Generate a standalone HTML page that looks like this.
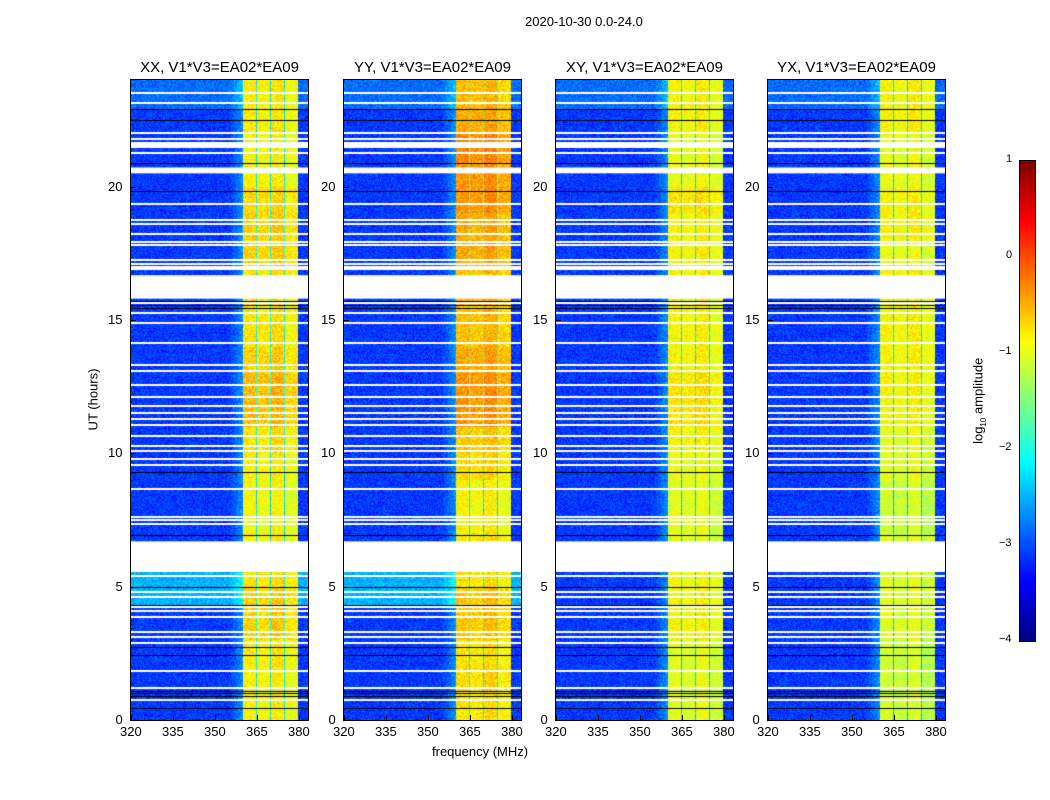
<!DOCTYPE html>
<html><head><meta charset="utf-8">
<style>
body{margin:0;background:#fff;width:1050px;height:800px;position:relative;overflow:hidden;font-family:"Liberation Sans",sans-serif;}
.t{position:absolute;font-size:13px;color:#000;white-space:nowrap}
.title{position:absolute;font-size:15px;white-space:nowrap;transform:translateX(-50%)}
canvas{position:absolute}
.frame{position:absolute;border:1px solid #000;box-sizing:border-box}
</style></head><body>
<div class="t" style="left:525px;top:14px">2020-10-30 0.0-24.0</div>
<div class="t" style="left:432px;top:744px">frequency (MHz)</div>
<div class="t" style="left:62px;top:392px;transform:rotate(-90deg);transform-origin:50% 50%">UT (hours)</div>
<div id="root"></div>
<canvas id="cbar" width="15" height="480" style="left:1019px;top:160px;border:1px solid #000;box-sizing:content-box"></canvas>
<div class="t" style="left:936px;top:392px;transform:rotate(-90deg)">log<sub style="font-size:8px">10</sub> amplitude</div>
<script>
// ---- data ----
const panelTitles=["XX, V1*V3=EA02*EA09","YY, V1*V3=EA02*EA09","XY, V1*V3=EA02*EA09","YX, V1*V3=EA02*EA09"];
const panelLefts=[131,344,556,768];
const xTicks=[320,335,350,365,380];
const yTicks=[0,5,10,15,20];
const cbTicks=[1,0,-1,-2,-3,-4];
const gaps=[[5.55,6.7],[15.8,16.68],[20.5,20.72]];
const whiteLines=[23.5,23.15,22.0,21.8,21.65,21.57,21.5,21.27,19.36,18.76,18.6,18.24,17.94,17.83,17.26,17.1,16.97,16.9,15.65,15.25,14.9,14.13,13.33,13.07,12.55,12.1,11.77,11.5,11.3,11.08,10.64,10.26,10.1,9.77,9.55,8.65,7.6,7.49,7.34,5.4,4.8,4.6,4.23,4.08,3.86,3.3,3.1,2.9,1.84,1.2,0.75];
const blackLines=[22.9,22.5,20.9,19.85,15.72,15.55,15.45,9.3,6.93,4.98,4.3,2.74,2.43,1.09,1.0,0.9,0.45];
// band level (log10 amp) per hour 0..23 per panel
const bandXX=[-0.85,-0.85,-0.8,-0.65,-0.65,-0.75,-0.85,-0.9,-0.9,-0.85,-0.75,-0.55,-0.55,-0.65,-0.75,-0.75,-0.75,-0.65,-0.65,-0.7,-0.85,-0.85,-0.8,-0.8];
const bandYY=[-0.75,-0.7,-0.75,-0.6,-0.6,-0.75,-0.75,-0.85,-0.85,-0.7,-0.6,-0.35,-0.35,-0.45,-0.55,-0.55,-0.55,-0.45,-0.45,-0.35,-0.35,-0.3,-0.45,-0.55];
const bandXY=[-1.0,-1.0,-1.0,-0.85,-0.85,-0.9,-1.0,-1.0,-1.0,-0.95,-0.85,-0.75,-0.75,-0.85,-0.85,-0.85,-0.85,-0.85,-0.85,-0.75,-0.95,-0.95,-0.85,-0.85];
const bandYX=[-1.1,-1.1,-1.1,-1.0,-1.0,-1.0,-1.0,-1.1,-1.1,-1.0,-1.0,-0.85,-0.85,-0.85,-0.85,-0.85,-0.85,-0.95,-0.85,-0.85,-0.95,-0.95,-0.85,-0.85];
const bands=[bandXX,bandYY,bandXY,bandYX];
const subbandStarts=[360,365,370,375];
const subbandOffset=[0,-0.05,0.05,-0.12];
const backgroundLevel=-3.1;
// ---- axes ----
const FMIN=320,FMAX=383.2,PW=177,PH=640,TOP=80;
const xs=f=>(f-FMIN)/(FMAX-FMIN)*PW;
const ys=h=>PH-h/24*PH;
function jet(v){let t=(v+4)/5;t=Math.max(0,Math.min(1,t));const c=x=>Math.round(255*Math.max(0,Math.min(1,x)));return [c(1.5-Math.abs(4*t-3)),c(1.5-Math.abs(4*t-2)),c(1.5-Math.abs(4*t-1))];}
function hash(a,b,c){let h=(a*374761393+b*668265263+c*2147483647)|0;h=(h^(h>>>13))*1274126177|0;return ((h^(h>>>16))>>>0)/4294967296;}
const root=document.getElementById('root');
panelLefts.forEach((L,p)=>{
  const cv=document.createElement('canvas');
  
  
  cv.width=PW;cv.height=PH;cv.style.left=L+'px';cv.style.top=TOP+'px';
  root.appendChild(cv);
  const ctx=cv.getContext('2d');const img=ctx.createImageData(PW,PH);
  for(let y=0;y<PH;y++){
    const h=(PH-y-0.5)/PH*24;
    const bl=bands[p][Math.min(23,Math.floor(h))];
    let base=backgroundLevel;
    if(h>4.3&&h<5.55&&p<2) base=-2.5;
    if(h>22.9) base=-2.85;
    for(let x=0;x<PW;x++){
      const f=FMIN+(x+0.5)/PW*(FMAX-FMIN);
      let v=base;
      if(f>355&&f<360) v=base+(f-355)/5*0.45;
      let k=-1;subbandStarts.forEach((s,i)=>{if(f>=s&&f<s+4.5)k=i;});
      if(f>=360&&f<379.5){v=(k>=0)?bl+subbandOffset[k]:bl-1.4;}
      v+= (hash(x,y,p)-0.5)*0.5;
      const c=jet(v);const i=(y*PW+x)*4;
      img.data[i]=c[0];img.data[i+1]=c[1];img.data[i+2]=c[2];img.data[i+3]=255;
    }
  }
  ctx.putImageData(img,0,0);
  ctx.fillStyle='#fff';
  gaps.forEach(g=>ctx.fillRect(0,ys(g[1]),PW,ys(g[0])-ys(g[1])));
  whiteLines.forEach(h=>ctx.fillRect(0,Math.round(ys(h))-1,PW,2));
  ctx.fillStyle='#000';
  blackLines.forEach(h=>ctx.fillRect(0,Math.round(ys(h)),PW,1));
  const fr=document.createElement('div');fr.className='frame';
  
  
  fr.style.cssText=`left:${L-1}px;top:${TOP-1}px;width:${PW+2}px;height:${PH+2}px`;
  root.appendChild(fr);
  const tt=document.createElement('div');tt.className='title';tt.textContent=panelTitles[p];
  
  
  tt.style.left=(L+PW/2)+'px';tt.style.top='59px';root.appendChild(tt);
  xTicks.forEach(f=>{const d=document.createElement('div');d.className='t';d.textContent=f;
    
    
    d.style.left=(L+xs(f)-11)+'px';d.style.top='724px';root.appendChild(d);
    const m=document.createElement('div');m.style.cssText=`position:absolute;left:${L+xs(f)}px;top:${TOP+PH-5}px;width:1px;height:5px;background:#000`;root.appendChild(m);});
  yTicks.forEach(h=>{const d=document.createElement('div');d.className='t';d.textContent=h;
    
    
    d.style.left=(L-8-String(h).length*7.5)+'px';d.style.top=(TOP+ys(h)-8)+'px';root.appendChild(d);
    const m=document.createElement('div');m.style.cssText=`position:absolute;left:${L}px;top:${TOP+ys(h)}px;width:5px;height:1px;background:#000`;root.appendChild(m);});
});
// colorbar
const cb=document.getElementById('cbar');const cc=cb.getContext('2d');
for(let y=0;y<480;y++){const v=1-y/480*5;const c=jet(v);cc.fillStyle=`rgb(${c[0]},${c[1]},${c[2]})`;cc.fillRect(0,y,15,1);}
cbTicks.forEach(v=>{const d=document.createElement('div');d.className='t';d.style.fontSize='11px';
  d.textContent=v<0?'\u2212'+(-v):String(v);
  
  
  d.style.left=(v<0?999:1006)+'px';d.style.top=(160+(1-v)/5*480-7)+'px';root.appendChild(d);});
</script>
</body></html>
